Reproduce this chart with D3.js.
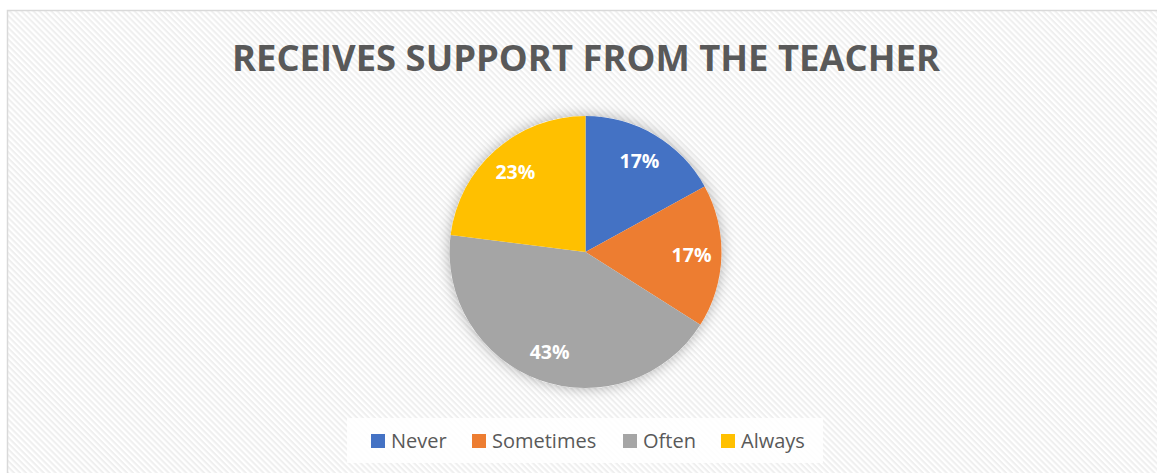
<!DOCTYPE html>
<html>
<head>
<meta charset="utf-8">
<script src="https://cdn.jsdelivr.net/npm/d3@7"></script>
<style>
  html, body { margin: 0; padding: 0; background: #ffffff; }
  svg { display: block; }
</style>
</head>
<body>
<svg id="chart" width="1157" height="473"></svg>
<script>
// Survey answers: share of respondents (percent)
const categories = ["Never", "Sometimes", "Often", "Always"];
const values = [17, 17, 43, 23];
const colors = ["#4472c4", "#ed7d31", "#a5a5a5", "#ffc000"];
const title = "RECEIVES SUPPORT FROM THE TEACHER";

const W = 1157, H = 473;
const svg = d3.select("#chart");
const defs = svg.append("defs");

// diagonal hatch used as the chart area fill
const pat = defs.append("pattern")
  .attr("id", "hatch")
  .attr("patternUnits", "userSpaceOnUse")
  .attr("width", 4.2).attr("height", 4.2)
  .attr("patternTransform", "rotate(45)");
pat.append("rect").attr("width", 4.2).attr("height", 4.2).attr("fill", "#ffffff");
pat.append("rect").attr("width", 4.2).attr("height", 2).attr("fill", "#efefef");

// soft glow around the pie
const f = defs.append("filter").attr("id", "glow")
  .attr("x", "-30%").attr("y", "-30%").attr("width", "160%").attr("height", "160%");
f.append("feDropShadow").attr("dx", 0).attr("dy", 0)
  .attr("stdDeviation", 7).attr("flood-color", "#000").attr("flood-opacity", 0.3);

// chart area frame
svg.append("rect")
  .attr("x", 7.5).attr("y", 10.5)
  .attr("width", W + 10).attr("height", H + 10)
  .attr("fill", "url(#hatch)")
  .attr("stroke", "#d9d9d9").attr("stroke-width", 1.5);

// title
svg.append("text")
  .attr("x", 586).attr("y", 71)
  .attr("text-anchor", "middle")
  .attr("font-family", "'Open Sans', 'Liberation Sans', sans-serif")
  .attr("font-weight", "bold")
  .attr("font-size", 36)
  .attr("fill", "#595959")
  .attr("textLength", 708)
  .attr("lengthAdjust", "spacingAndGlyphs")
  .text(title);

// pie
const cx = 585.5, cy = 252, r = 136;
const pie = d3.pie().sort(null).value(d => d)(values);
const arc = d3.arc().innerRadius(0).outerRadius(r);
const labelArc = d3.arc().innerRadius(r * 0.78).outerRadius(r * 0.78);

const g = svg.append("g").attr("transform", `translate(${cx},${cy})`);
g.append("circle").attr("r", r).attr("fill", "#ffffff").attr("filter", "url(#glow)");
g.selectAll("path.slice")
  .data(pie)
  .join("path")
  .attr("class", "slice")
  .attr("d", arc)
  .attr("fill", (d, i) => colors[i]);

g.selectAll("text.lbl")
  .data(pie)
  .join("text")
  .attr("class", "lbl")
  .attr("transform", d => `translate(${labelArc.centroid(d)})`)
  .attr("text-anchor", "middle")
  .attr("dy", "0.36em")
  .attr("font-family", "'Open Sans', 'Liberation Sans', sans-serif")
  .attr("font-weight", "bold")
  .attr("font-size", 19.5)
  .attr("fill", "#ffffff")
  .text(d => d.data + "%");

// legend
const lg = svg.append("g");
lg.append("rect")
  .attr("x", 347).attr("y", 418)
  .attr("width", 476).attr("height", 45)
  .attr("fill", "#ffffff").attr("fill-opacity", 0.85);

const legendX = [371, 472, 623, 721];
const items = lg.selectAll("g.item")
  .data(categories)
  .join("g")
  .attr("class", "item")
  .attr("transform", (d, i) => `translate(${legendX[i]},434)`);
items.append("rect")
  .attr("width", 14).attr("height", 14)
  .attr("fill", (d, i) => colors[i]);
items.append("text")
  .attr("x", 20).attr("y", 14)
  .attr("font-family", "'Open Sans', 'Liberation Sans', sans-serif")
  .attr("font-size", 20)
  .attr("fill", "#595959")
  .text(d => d);
</script>
</body>
</html>
